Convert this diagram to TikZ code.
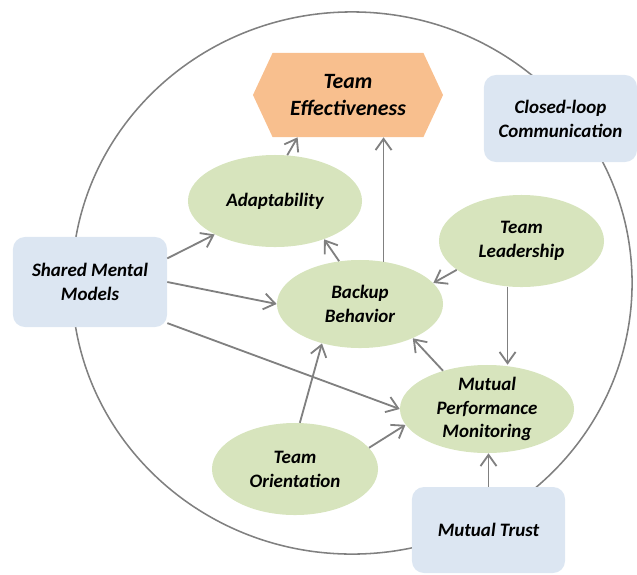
\documentclass[tikz,border=0pt]{standalone}
\usepackage{fontspec}
\setmainfont{Carlito}
\usepackage{xcolor}
\usepackage{tikz}
\usetikzlibrary{positioning,shapes.geometric,shapes.symbols,arrows.meta}

\definecolor{skillgreen}{HTML}{D7E4BD}
\definecolor{factorblue}{HTML}{DCE6F2}
\definecolor{outcome}{HTML}{F8BF8E}
\definecolor{linkgray}{HTML}{808080}

\begin{document}
\begin{tikzpicture}[x=0.025cm,y=-0.025cm,
		skill/.style={ellipse,fill=skillgreen,inner xsep=0pt,inner ysep=-6pt,align=center,font=\fontsize{13.5}{17}\selectfont\bfseries\itshape},
		factor/.style={rectangle,rounded corners=0.3cm,fill=factorblue,align=center,font=\fontsize{13.5}{17}\selectfont\bfseries\itshape},
		link/.style={-{Straight Barb[length=2.8mm,width=4mm]},draw=linkgray,line width=1.3pt}]
		\useasboundingbox (0,0) rectangle (637,574);
		\draw[draw=linkgray,line width=1.1pt] (352,283) ellipse [x radius=7cm,y radius=6.775cm];
		
		\node[signal,signal to=west and east,signal pointer angle=130,fill=outcome,minimum width=4.75cm,minimum height=2.1cm,align=center,font=\fontsize{15.5}{19}\selectfont\bfseries\itshape] (teff) at (348,95) {Team\\Effectiveness};
		\node[factor,minimum width=3.825cm,minimum height=2.175cm] (cloop) at (560.5,118.5) {Closed-loop\\Communication};
		\node[factor,minimum width=3.85cm,minimum height=2.25cm] (smm) at (90,282) {Shared Mental\\Models};
		\node[factor,minimum width=3.825cm,minimum height=2.15cm] (trust) at (488.5,530) {Mutual Trust};
		\node[skill,minimum width=4.35cm,minimum height=2.3cm] (adapt) at (275,201) {Adaptability};
		\node[skill,minimum width=4.15cm,minimum height=2.2cm] (backup) at (360,304) {Backup\\Behavior};
		\node[skill,minimum width=4.125cm,minimum height=2.3cm] (lead) at (521.5,241) {Team\\Leadership};
		\node[skill,minimum width=4.35cm,minimum height=2.2cm] (mpm) at (487,409) {Mutual\\Performance\\Monitoring};
		\node[skill,minimum width=4.15cm,minimum height=2.3cm] (orient) at (295,469) {Team\\Orientation};
		
		\draw[link] (adapt.75)--(teff.220);
		\draw[link] (backup.61)--(backup.61 |- teff.south);
		\draw[link] (smm.17)--(adapt.209);
		\draw[link] (smm.east)--(backup.west);
		\draw[link] (smm.-28)--(mpm.west);
		\draw[link] (backup.116)--(adapt.-38);
		\draw[link] (lead.204)--(backup.16);
		\draw[link] (lead.253)--(lead.253 |- mpm.north);
		\draw[link] (mpm.139)--(backup.-33);
		\draw[link] (orient.84)--(backup.226);
		\draw[link] (orient.16)--(mpm.191);
		\draw[link] (trust.north)--(trust.north |- mpm.south);
	\end{tikzpicture}
\end{document}
